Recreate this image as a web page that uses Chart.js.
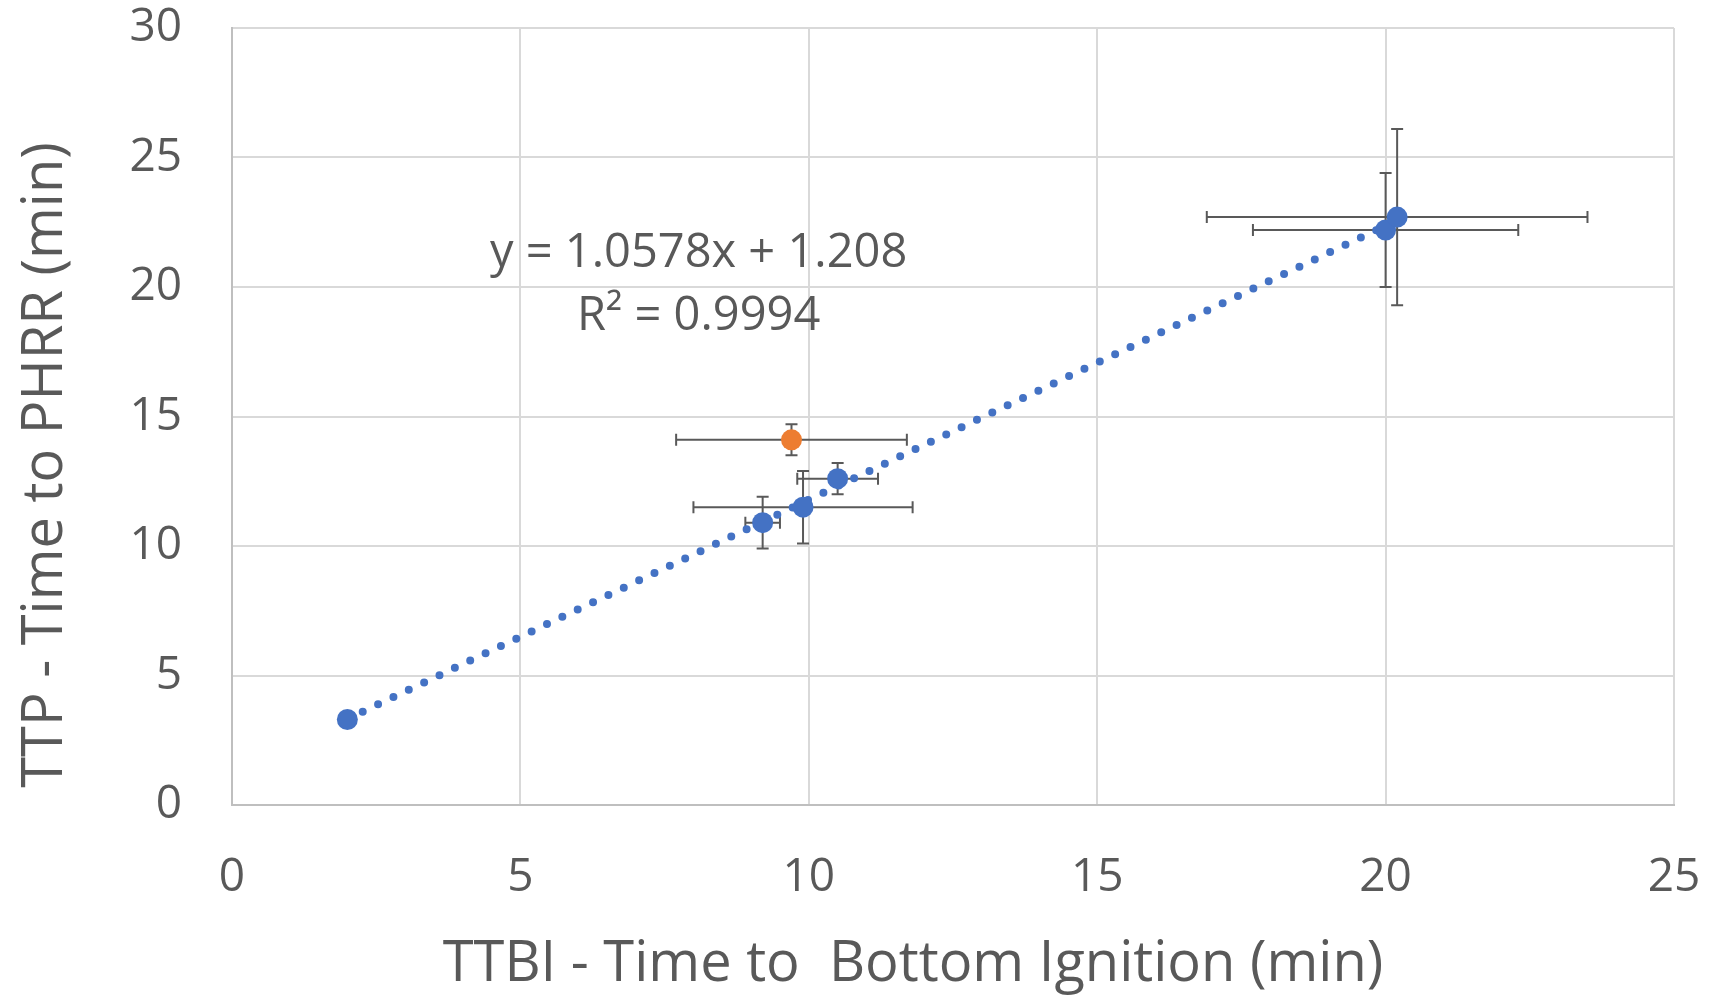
<!DOCTYPE html>
<html>
<head>
<meta charset="utf-8">
<script src="https://cdn.jsdelivr.net/npm/chart.js@4.4.0/dist/chart.umd.min.js"></script>
<style>
  html, body { margin: 0; padding: 0; background: #fff; }
  canvas { display: block; }
</style>
</head>
<body>
<canvas id="myChart" width="1713" height="996"></canvas>
<script>
// measured samples (min)
var blueX = [2.0, 9.2, 9.9, 10.5, 20.0, 20.2];
var blueY = [3.3, 10.9, 11.5, 12.6, 22.2, 22.7];
var blueXErr = [0, 0.3, 1.9, 0.7, 2.3, 3.3];
var blueYErr = [0, 1.0, 1.4, 0.6, 2.2, 3.4];

var orangeX = [9.7];
var orangeY = [14.1];
var orangeXErr = [2.0];
var orangeYErr = [0.6];

// linear fit of the blue series
var slope = 1.0578;
var intercept = 1.208;
var rSquared = 0.9994;
var fitRange = [2.0, 20.2];

var xTicks = [0, 5, 10, 15, 20, 25];
var yTicks = [0, 5, 10, 15, 20, 25, 30];

var textColor = '#595959';

function toPoints(xs, ys) {
    return xs.map(function (x, i) { return { x: x, y: ys[i] }; });
}

var fitPoints = fitRange.map(function (x) { return { x: x, y: slope * x + intercept }; });

// no extra room for overflowing tick labels, the layout padding covers it
function noLabelPadding(s) {
    s.paddingTop = 0;
    s.paddingBottom = 0;
    s.paddingLeft = 0;
    s.paddingRight = 0;
}

// error bars, drawn under the markers
var errorBars = {
    id: 'errorBars',
    beforeDatasetsDraw: function (chart) {
        var ctx = chart.ctx;
        var xs = chart.scales.x, ys = chart.scales.y;
        var sets = [
            [blueX, blueY, blueXErr, blueYErr],
            [orangeX, orangeY, orangeXErr, orangeYErr]
        ];
        var cap = 6;
        ctx.save();
        ctx.strokeStyle = '#595959';
        ctx.lineWidth = 2;
        sets.forEach(function (s) {
            s[0].forEach(function (x, i) {
                var y = s[1][i];
                var px = xs.getPixelForValue(x), py = ys.getPixelForValue(y);
                var ex = s[2][i], ey = s[3][i];
                ctx.beginPath();
                if (ex > 0) {
                    var x0 = xs.getPixelForValue(x - ex), x1 = xs.getPixelForValue(x + ex);
                    ctx.moveTo(x0, py); ctx.lineTo(x1, py);
                    ctx.moveTo(x0, py - cap); ctx.lineTo(x0, py + cap);
                    ctx.moveTo(x1, py - cap); ctx.lineTo(x1, py + cap);
                }
                if (ey > 0) {
                    var y0 = ys.getPixelForValue(y - ey), y1 = ys.getPixelForValue(y + ey);
                    ctx.moveTo(px, y0); ctx.lineTo(px, y1);
                    ctx.moveTo(px - cap, y0); ctx.lineTo(px + cap, y0);
                    ctx.moveTo(px - cap, y1); ctx.lineTo(px + cap, y1);
                }
                ctx.stroke();
            });
        });
        ctx.restore();
    }
};

// axis titles and the fit equation
var labels = {
    id: 'labels',
    afterDraw: function (chart) {
        var ctx = chart.ctx;
        var xs = chart.scales.x, ys = chart.scales.y;
        ctx.save();
        ctx.fillStyle = textColor;
        ctx.textAlign = 'center';
        ctx.textBaseline = 'middle';

        ctx.font = '47px "Open Sans"';
        var ex = xs.getPixelForValue(8.09);
        ctx.fillText('y = ' + slope + 'x + ' + intercept, ex, ys.getPixelForValue(21.3));
        ctx.fillText('R\u00b2 = ' + rSquared, ex, ys.getPixelForValue(18.85));

        ctx.font = '56px "Open Sans"';
        ctx.fillText('TTBI - Time to  Bottom Ignition (min)', 913, 965);

        ctx.translate(46, 465);
        ctx.rotate(-Math.PI / 2);
        ctx.fillText('TTP - Time to PHRR (min)', 0, 0);
        ctx.restore();
    }
};

var chartData = {
    type: 'scatter',
    data: {
        datasets: [{
            label: 'blue',
            data: toPoints(blueX, blueY),
            backgroundColor: '#4472C4',
            borderWidth: 0,
            pointRadius: 10.5,
            order: 0
        }, {
            label: 'orange',
            data: toPoints(orangeX, orangeY),
            backgroundColor: '#ED7D31',
            borderWidth: 0,
            pointRadius: 10.5,
            order: 1
        }, {
            type: 'line',
            label: 'fit',
            data: fitPoints,
            borderColor: '#4472C4',
            borderWidth: 8,
            borderDash: [0, 17],
            borderCapStyle: 'round',
            pointRadius: 0,
            fill: false,
            order: 2
        }]
    },
    options: {
        responsive: false,
        animation: false,
        devicePixelRatio: 1,
        layout: { padding: { top: 28, right: 39, left: 0, bottom: 0 } },
        plugins: {
            legend: { display: false },
            tooltip: { enabled: false }
        },
        scales: {
            x: {
                type: 'linear',
                min: 0, max: 25,
                afterBuildTicks: function (s) { s.ticks = xTicks.map(function (v) { return { value: v }; }); },
                afterFit: function (s) { s.height = 191; noLabelPadding(s); },
                grid: { color: '#d9d9d9', lineWidth: 2, drawTicks: false },
                border: { color: '#bfbfbf', width: 2 },
                ticks: { color: textColor, font: { family: 'Open Sans', size: 46, lineHeight: 1 }, padding: 50, maxRotation: 0 }
            },
            y: {
                type: 'linear',
                min: 0, max: 30,
                afterBuildTicks: function (s) { s.ticks = yTicks.map(function (v) { return { value: v }; }); },
                afterFit: function (s) { s.width = 232; noLabelPadding(s); },
                grid: { color: '#d9d9d9', lineWidth: 2, drawTicks: false },
                border: { color: '#bfbfbf', width: 2 },
                ticks: { color: textColor, font: { family: 'Open Sans', size: 46, lineHeight: 1 }, padding: 50 }
            }
        }
    },
    plugins: [errorBars, labels]
};

var chartArea = document.getElementById('myChart').getContext('2d');
var myChart = new Chart(chartArea, chartData);
</script>
</body>
</html>
